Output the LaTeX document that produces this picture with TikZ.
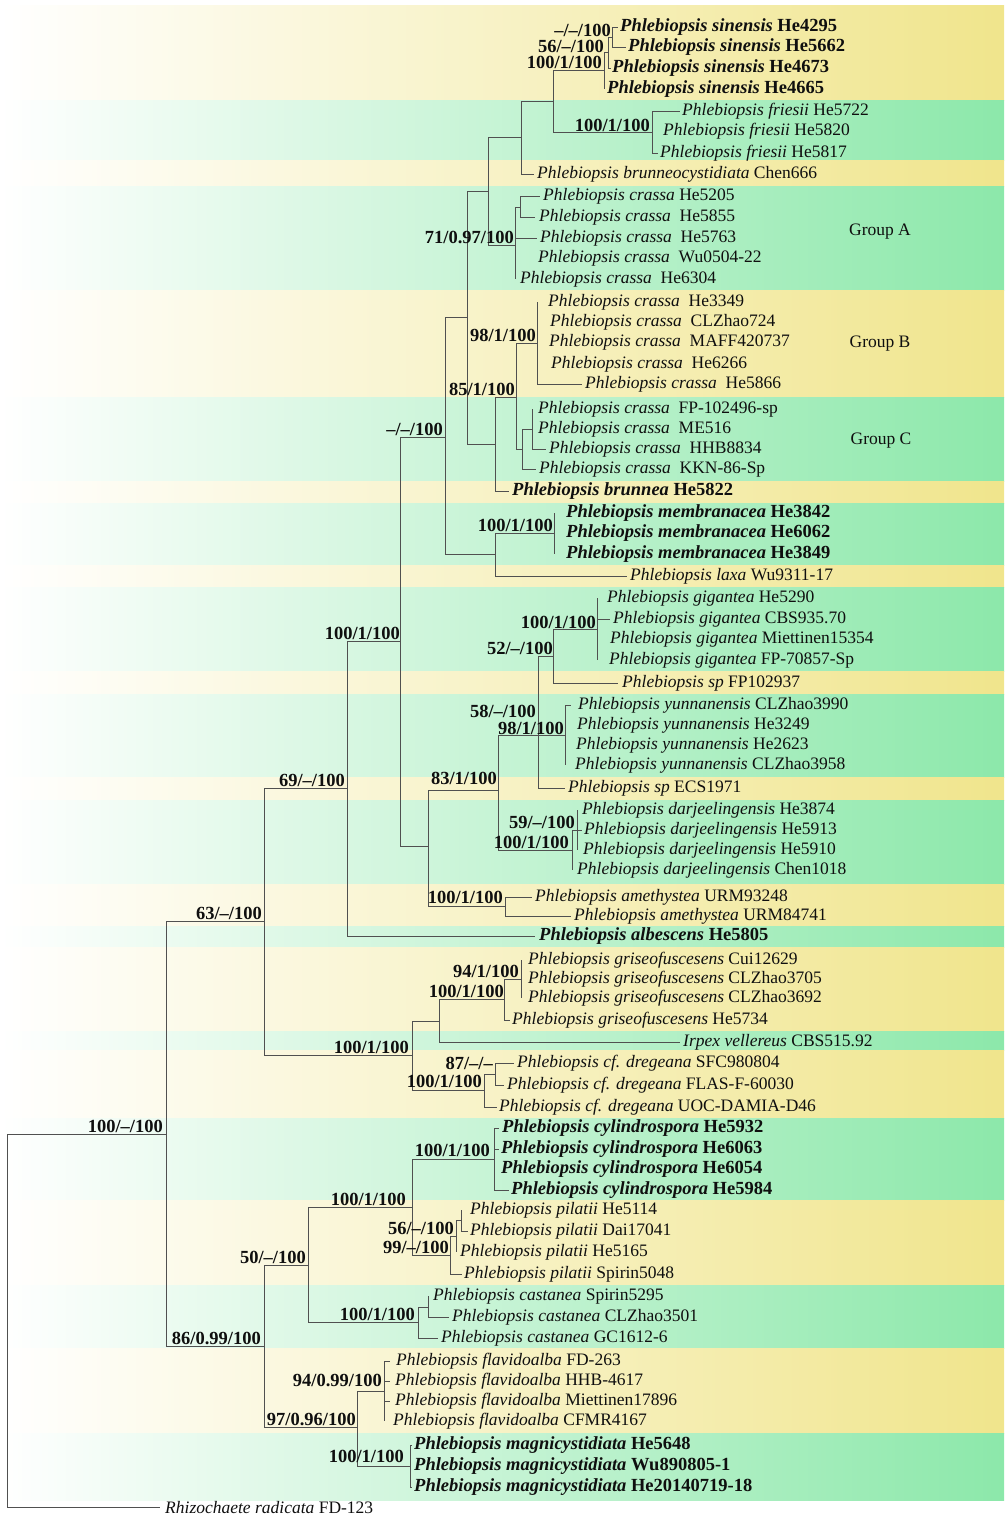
\documentclass[tikz,border=0pt]{standalone}
\usepackage{fontspec}
\setmainfont{Liberation Serif}
\definecolor{ylw}{RGB}{240,229,140}
\definecolor{grn}{RGB}{140,232,170}
\definecolor{brc}{RGB}{80,80,80}
\definecolor{txt}{RGB}{15,15,15}
\tikzset{
 br/.style={draw=brc, line width=0.95pt},
 leaf/.style={anchor=west, inner sep=0pt, text=txt, font=\fontsize{17.5}{20}\selectfont},
 bleaf/.style={leaf, font=\fontsize{18.5}{20}\selectfont\bfseries},
 sv/.style={anchor=base east, inner sep=0pt, text=txt, font=\fontsize{18.5}{20}\selectfont\bfseries},
 grp/.style={anchor=center, inner sep=0pt, text=txt, font=\fontsize{17.5}{20}\selectfont},
}
% leaf: [style]{name}{parent}{tip x}{y}{text x}{text}
\newcommand\lf[7][leaf]{%
 \coordinate (#2t) at (#4,#5);
 \node[#1] (#2) at (#6,#5) {#7};
 \draw[br] (#3) |- (#2t);}
\begin{document}
\begin{tikzpicture}[x=1pt,y=-1pt]
\useasboundingbox (0,0) rectangle (1004,1518);
% background bands
\foreach \a/\b/\c in {5/100/ylw,100/160/grn,160/186/ylw,186/290/grn,290/397/ylw,397/481/grn,481/503/ylw,503/565/grn,565/587/ylw,587/671/grn,671/694/ylw,694/777/grn,777/800/ylw,800/884/grn,884/926/ylw,926/947/grn,947/1031/ylw,1031/1050/grn,1050/1118/ylw,1118/1200/grn,1200/1285/ylw,1285/1348/grn,1348/1433/ylw,1433/1500/grn}
 {\shade[left color=white, right color=\c] (0,\a) rectangle (1004,\b);}

% internal nodes
\coordinate (root) at (7,1320);
\coordinate (R1) at (166,1134);
\coordinate (A63) at (264,921);
\coordinate (A69) at (347,788);
\coordinate (A100) at (400,641);
\coordinate (Nmm) at (445,437);
\coordinate (N467) at (467,317);
\coordinate (N488) at (488,191);
\coordinate (NSFB) at (521,137);
\coordinate (NSF) at (553,101);
\coordinate (S1) at (604,70);
\coordinate (S2) at (608,52);
\coordinate (S3) at (612,37);
\coordinate (F) at (652,132);
\coordinate (GA) at (515,245);
\coordinate (GA1) at (520,207);
\coordinate (N495b) at (495,444);
\coordinate (N85) at (516,397);
\coordinate (GB) at (537,343);
\coordinate (GC) at (522,449);
\coordinate (GC2) at (532,429);
\coordinate (NML) at (495,554);
\coordinate (MEM) at (554,533);
\coordinate (NB) at (428,846);
\coordinate (N83) at (498,790);
\coordinate (N58) at (538,735);
\coordinate (N52) at (553,656);
\coordinate (GIG) at (597,629);
\coordinate (N98) at (565,735);
\coordinate (D0) at (572,850);
\coordinate (D1) at (577,830);
\coordinate (AME) at (505,906);
\coordinate (N412) at (412,1055);
\coordinate (N439) at (439,1021);
\coordinate (G0) at (504,999);
\coordinate (G1) at (521,979);
\coordinate (DR0) at (484,1090);
\coordinate (DR1) at (495,1074);
\coordinate (L86) at (264,1346);
\coordinate (L50) at (308,1265);
\coordinate (L100a) at (412,1207);
\coordinate (CYL) at (494,1159);
\coordinate (P0) at (450,1255);
\coordinate (P1) at (456,1236);
\coordinate (P2) at (461,1220);
\coordinate (CAS) at (418,1322);
\coordinate (CAS1) at (428,1307);
\coordinate (L97) at (357,1427);
\coordinate (FLA) at (384,1391);
\coordinate (MAG) at (410,1466);

% internal connectors
\foreach \p/\c in {root/R1,R1/A63,R1/L86,A63/A69,A63/N412,A69/A100,A100/Nmm,A100/NB,
 Nmm/N467,Nmm/NML,N467/N488,N467/N495b,N488/NSFB,N488/GA,NSFB/NSF,NSF/S1,NSF/F,S1/S2,S2/S3,
 GA/GA1,N495b/N85,N85/GB,N85/GC,GC/GC2,NML/MEM,NB/N83,NB/AME,N83/N58,N83/D0,N58/N52,N58/N98,
 N52/GIG,D0/D1,N412/N439,N412/DR0,N439/G0,G0/G1,DR0/DR1,L86/L50,L86/L97,L50/L100a,L50/CAS,
 L100a/CYL,L100a/P0,P0/P1,P1/P2,CAS/CAS1,L97/FLA,L97/MAG}
 {\draw[br] (\p) |- (\c);}

% leaves
\lf[bleaf]{l1}{S3}{618}{27}{620}{\textit{Phlebiopsis sinensis} He4295}
\lf[bleaf]{l2}{S3}{626}{47}{628}{\textit{Phlebiopsis sinensis} He5662}
\lf[bleaf]{l3}{S2}{611}{68}{612}{\textit{Phlebiopsis sinensis} He4673}
\lf[bleaf]{l4}{S1}{604}{89}{607}{\textit{Phlebiopsis sinensis} He4665}
\lf{l5}{F}{680}{111}{682}{\textit{Phlebiopsis friesii} He5722}
\lf{l6}{F}{652}{131}{663}{\textit{Phlebiopsis friesii} He5820}
\lf{l7}{F}{658}{153}{660}{\textit{Phlebiopsis friesii} He5817}
\lf{l8}{NSFB}{534}{174}{537}{\textit{Phlebiopsis brunneocystidiata} Chen666}
\lf{l9}{GA1}{540}{196}{543}{\textit{Phlebiopsis crassa} He5205}
\lf{l10}{GA1}{535}{217}{539}{\textit{Phlebiopsis crassa}\ \ He5855}
\lf{l11}{GA}{537}{238}{540}{\textit{Phlebiopsis crassa}\ \ He5763}
\lf{l12}{GA}{515}{258}{538}{\textit{Phlebiopsis crassa}\ \ Wu0504-22}
\lf{l13}{GA}{515}{279}{520}{\textit{Phlebiopsis crassa}\ \ He6304}
\lf{l14}{GB}{537}{302}{548}{\textit{Phlebiopsis crassa}\ \ He3349}
\lf{l15}{GB}{537}{322}{550}{\textit{Phlebiopsis crassa}\ \ CLZhao724}
\lf{l16}{GB}{537}{342}{549}{\textit{Phlebiopsis crassa}\ \ MAFF420737}
\lf{l17}{GB}{537}{364}{551}{\textit{Phlebiopsis crassa}\ \ He6266}
\lf{l18}{GB}{582}{384}{585}{\textit{Phlebiopsis crassa}\ \ He5866}
\lf{l19}{GC2}{532}{409}{538}{\textit{Phlebiopsis crassa}\ \ FP-102496-sp}
\lf{l20}{GC2}{532}{429}{538}{\textit{Phlebiopsis crassa}\ \ ME516}
\lf{l21}{GC2}{546}{449}{549}{\textit{Phlebiopsis crassa}\ \ HHB8834}
\lf{l22}{GC}{536}{469}{539}{\textit{Phlebiopsis crassa}\ \ KKN-86-Sp}
\lf[bleaf]{l23}{N495b}{509}{491}{512}{\textit{Phlebiopsis brunnea} He5822}
\lf[bleaf]{l24}{MEM}{554}{513}{566}{\textit{Phlebiopsis membranacea} He3842}
\lf[bleaf]{l25}{MEM}{554}{533}{566}{\textit{Phlebiopsis membranacea} He6062}
\lf[bleaf]{l26}{MEM}{554}{554}{566}{\textit{Phlebiopsis membranacea} He3849}
\lf{l27}{NML}{627}{576}{630}{\textit{Phlebiopsis laxa} Wu9311-17}
\lf{l28}{GIG}{597}{598}{607}{\textit{Phlebiopsis gigantea} He5290}
\lf{l29}{GIG}{610}{619}{613}{\textit{Phlebiopsis gigantea} CBS935.70}
\lf{l30}{GIG}{597}{639}{610}{\textit{Phlebiopsis gigantea} Miettinen15354}
\lf{l31}{GIG}{597}{660}{609}{\textit{Phlebiopsis gigantea} FP-70857-Sp}
\lf{l32}{N52}{618}{683}{622}{\textit{Phlebiopsis sp} FP102937}
\lf{l33}{N98}{571}{705}{578}{\textit{Phlebiopsis yunnanensis} CLZhao3990}
\lf{l34}{N98}{565}{725}{577}{\textit{Phlebiopsis yunnanensis} He3249}
\lf{l35}{N98}{565}{745}{576}{\textit{Phlebiopsis yunnanensis} He2623}
\lf{l36}{N98}{565}{765}{575}{\textit{Phlebiopsis yunnanensis} CLZhao3958}
\lf{l37}{N58}{565}{788}{568}{\textit{Phlebiopsis sp} ECS1971}
\lf{l38}{D1}{577}{810}{582}{\textit{Phlebiopsis darjeelingensis} He3874}
\lf{l39}{D1}{582}{830}{584}{\textit{Phlebiopsis darjeelingensis} He5913}
\lf{l40}{D1}{577}{850}{583}{\textit{Phlebiopsis darjeelingensis} He5910}
\lf{l41}{D0}{572}{870}{577}{\textit{Phlebiopsis darjeelingensis} Chen1018}
\lf{l42}{AME}{532}{897}{535}{\textit{Phlebiopsis amethystea} URM93248}
\lf{l43}{AME}{571}{916}{574}{\textit{Phlebiopsis amethystea} URM84741}
\lf[bleaf]{l44}{A69}{535}{936}{539}{\textit{Phlebiopsis albescens} He5805}
\lf{l45}{G1}{521}{960}{528}{\textit{Phlebiopsis griseofuscesens} Cui12629}
\lf{l46}{G1}{521}{979}{528}{\textit{Phlebiopsis griseofuscesens} CLZhao3705}
\lf{l47}{G1}{521}{998}{528}{\textit{Phlebiopsis griseofuscesens} CLZhao3692}
\lf{l48}{G0}{510}{1020}{512}{\textit{Phlebiopsis griseofuscesens} He5734}
\lf{l49}{N439}{680}{1042}{683}{\textit{Irpex vellereus} CBS515.92}
\lf{l50}{DR1}{514}{1063}{517}{\textit{Phlebiopsis cf. dregeana} SFC980804}
\lf{l51}{DR1}{504}{1085}{507}{\textit{Phlebiopsis cf. dregeana} FLAS-F-60030}
\lf{l52}{DR0}{497}{1107}{499}{\textit{Phlebiopsis cf. dregeana} UOC-DAMIA-D46}
\lf[bleaf]{l53}{CYL}{499}{1128}{502}{\textit{Phlebiopsis cylindrospora} He5932}
\lf[bleaf]{l54}{CYL}{499}{1149}{501}{\textit{Phlebiopsis cylindrospora} He6063}
\lf[bleaf]{l55}{CYL}{494}{1169}{501}{\textit{Phlebiopsis cylindrospora} He6054}
\lf[bleaf]{l56}{CYL}{509}{1190}{511}{\textit{Phlebiopsis cylindrospora} He5984}
\lf{l57}{P2}{461}{1210}{470}{\textit{Phlebiopsis pilatii} He5114}
\lf{l58}{P2}{468}{1231}{470}{\textit{Phlebiopsis pilatii} Dai17041}
\lf{l59}{P1}{456}{1252}{460}{\textit{Phlebiopsis pilatii} He5165}
\lf{l60}{P0}{462}{1274}{464}{\textit{Phlebiopsis pilatii} Spirin5048}
\lf{l61}{CAS1}{428}{1296}{433}{\textit{Phlebiopsis castanea} Spirin5295}
\lf{l62}{CAS1}{449}{1317}{452}{\textit{Phlebiopsis castanea} CLZhao3501}
\lf{l63}{CAS}{438}{1338}{441}{\textit{Phlebiopsis castanea} GC1612-6}
\lf{l64}{FLA}{390}{1361}{396}{\textit{Phlebiopsis flavidoalba} FD-263}
\lf{l65}{FLA}{390}{1381}{395}{\textit{Phlebiopsis flavidoalba} HHB-4617}
\lf{l66}{FLA}{390}{1401}{395}{\textit{Phlebiopsis flavidoalba} Miettinen17896}
\lf{l67}{FLA}{384}{1421}{393}{\textit{Phlebiopsis flavidoalba} CFMR4167}
\lf[bleaf]{l68}{MAG}{412}{1445}{414}{\textit{Phlebiopsis magnicystidiata} He5648}
\lf[bleaf]{l69}{MAG}{410}{1466}{414}{\textit{Phlebiopsis magnicystidiata} Wu890805-1}
\lf[bleaf]{l70}{MAG}{412}{1487}{414}{\textit{Phlebiopsis magnicystidiata} He20140719-18}
\lf{l71}{root}{160}{1507}{165}{\textit{Rhizochaete radicata} FD-123}

% support values
\node[sv] (v1) at (611,36) {–/–/100};
\node[sv] (v2) at (604,52) {56/–/100};
\node[sv] (v3) at (602,68) {100/1/100};
\node[sv] (v4) at (650,131) {100/1/100};
\node[sv] (v5) at (514,243) {71/0.97/100};
\node[sv] (v6) at (536,341) {98/1/100};
\node[sv] (v7) at (515,395) {85/1/100};
\node[sv] (v8) at (443,435) {–/–/100};
\node[sv] (v9) at (553,531) {100/1/100};
\node[sv] (v10) at (400,639) {100/1/100};
\node[sv] (v11) at (553,654) {52/–/100};
\node[sv] (v12) at (596,628) {100/1/100};
\node[sv] (v13) at (536,717) {58/–/100};
\node[sv] (v14) at (564,734) {98/1/100};
\node[sv] (v15) at (497,784) {83/1/100};
\node[sv] (v16) at (345,786) {69/–/100};
\node[sv] (v17) at (575,828) {59/–/100};
\node[sv] (v18) at (569,848) {100/1/100};
\node[sv] (v19) at (503,903) {100/1/100};
\node[sv] (v20) at (262,919) {63/–/100};
\node[sv] (v21) at (519,977) {94/1/100};
\node[sv] (v22) at (504,997) {100/1/100};
\node[sv] (v23) at (409,1053) {100/1/100};
\node[sv] (v24) at (493,1069) {87/–/–};
\node[sv] (v25) at (482,1087) {100/1/100};
\node[sv] (v26) at (163,1132) {100/–/100};
\node[sv] (v27) at (490,1156) {100/1/100};
\node[sv] (v28) at (406,1205) {100/1/100};
\node[sv] (v29) at (454,1234) {56/–/100};
\node[sv] (v30) at (449,1253) {99/–/100};
\node[sv] (v31) at (306,1263) {50/–/100};
\node[sv] (v32) at (415,1320) {100/1/100};
\node[sv] (v33) at (261,1344) {86/0.99/100};
\node[sv] (v34) at (382,1386) {94/0.99/100};
\node[sv] (v35) at (356,1425) {97/0.96/100};
\node[sv] (v36) at (404,1462) {100/1/100};

% group labels
\node[grp] (ga) at (880,232) {Group A};
\node[grp] (gb) at (880,344) {Group B};
\node[grp] (gc) at (881,441) {Group C};
\end{tikzpicture}
\end{document}
